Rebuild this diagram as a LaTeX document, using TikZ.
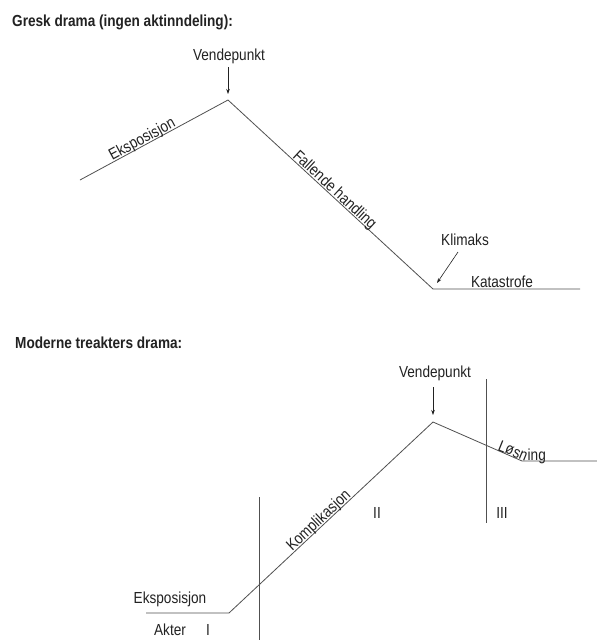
\documentclass[tikz,border=0pt]{standalone}
\usepackage{fontspec}
\setmainfont{Liberation Sans}[FakeStretch=0.85]
\usetikzlibrary{arrows.meta}
\definecolor{ink}{HTML}{222222}
\definecolor{lin}{HTML}{505050}
\begin{document}
\begin{tikzpicture}[x=1pt,y=-1pt,
  lbl/.style={inner sep=0pt,text=ink,font=\fontsize{16}{18}\selectfont},
  ttl/.style={inner sep=0pt,text=ink,font=\fontsize{16}{18}\selectfont\bfseries,anchor=base west},
  curve/.style={draw=lin,line width=0.8pt},
  pointer/.style={draw=ink,line width=0.6pt,-{Stealth[length=5pt,width=3.5pt]}},
  divider/.style={draw=lin,line width=0.8pt}]
\useasboundingbox[fill=white] (0,0) rectangle (597,640);

% ---------- Greek drama ----------
\node[ttl] (t1) at (12,26) {Gresk drama (ingen aktinndeling):};
\coordinate (a0) at (80,180);
\coordinate (a1) at (228,100);
\coordinate (a2) at (433,289);
\coordinate (a3) at (580,289);
\draw[curve] (a0) -- node[lbl,pos=0.44,sloped,anchor=base,yshift=1.5pt] (e1) {Eksposisjon}
  (a1) -- node[lbl,pos=0.50,sloped,anchor=base,yshift=1.5pt] (f1) {Fallende handling}
  (a2) -- (a3);
\node[lbl,anchor=base] (v1) at (229,60) {Vendepunkt};
\coordinate (v1t) at (228,67);
\coordinate (v1h) at (228,94);
\draw[pointer] (v1t) -- (v1h);
\node[lbl,anchor=base] (k1) at (465,245) {Klimaks};
\coordinate (k1t) at (458,252);
\coordinate (k1h) at (437,283);
\draw[pointer] (k1t) -- (k1h);
\node[lbl,anchor=base] (kat) at (502,287) {Katastrofe};

% ---------- Modern three-act drama ----------
\node[ttl] (t2) at (15,348) {Moderne treakters drama:};
\coordinate (b0) at (146,613);
\coordinate (b1) at (229,613);
\coordinate (b2) at (433,422);
\coordinate (b3) at (522,461);
\coordinate (b4) at (597,461);
\draw[curve] (b0) -- (b1) -- node[lbl,pos=0.46,sloped,anchor=base,yshift=1.5pt] (ko) {Komplikasjon}
  (b2) -- (b3) -- (b4);
\node[lbl,anchor=base] (v2) at (435,377) {Vendepunkt};
\coordinate (v2t) at (433,387);
\coordinate (v2h) at (433,415);
\draw[pointer] (v2t) -- (v2h);
\coordinate (d1t) at (259,497);
\coordinate (d1b) at (259,640);
\coordinate (d2t) at (486,379);
\coordinate (d2b) at (486,523);
\draw[divider] (d1t) -- (d1b);
\draw[divider] (d2t) -- (d2b);
\node[lbl,anchor=base west,rotate=-22] (l1) at (497,450) {Løsn};
\node[lbl,anchor=base west] (l2) at (527.5,460) {ing};
\node[lbl,anchor=base] (e2) at (170,603) {Eksposisjon};
\node[lbl,anchor=base] (ak) at (170,635) {Akter};
\node[lbl,anchor=base] (r1) at (208,635) {I};
\node[lbl,anchor=base] (r2) at (377,518) {II};
\node[lbl,anchor=base] (r3) at (502,518) {III};
\end{tikzpicture}
\end{document}
